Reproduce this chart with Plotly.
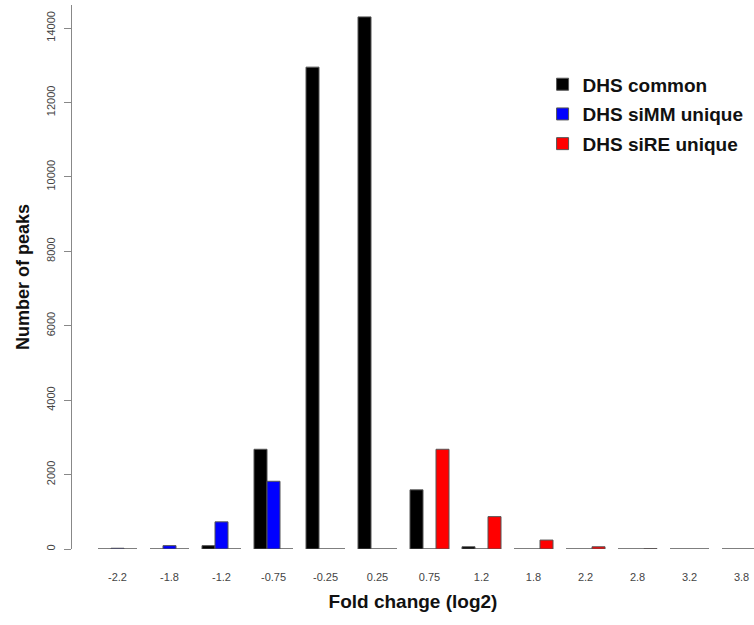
import plotly.graph_objects as go

# Fold-change bins (log2) and peak counts per DHS class
bins = ["-2.2", "-1.8", "-1.2", "-0.75", "-0.25", "0.25", "0.75",
        "1.2", "1.8", "2.2", "2.8", "3.2", "3.8"]
dhs_common = [0, 0, 90, 2680, 12950, 14300, 1590, 60, 0, 0, 0, 0, 0]
dhs_simm_unique = [20, 90, 730, 1820, 0, 0, 0, 0, 0, 0, 0, 0, 0]
dhs_sire_unique = [0, 0, 0, 0, 0, 0, 2680, 870, 240, 60, 10, 0, 0]

y_ticks = [0, 2000, 4000, 6000, 8000, 10000, 12000, 14000]
y_tick_labels = [str(v) for v in y_ticks]

series = [
    ("DHS common", dhs_common, "#000000"),
    ("DHS siMM unique", dhs_simm_unique, "#0000FF"),
    ("DHS siRE unique", dhs_sire_unique, "#FF0000"),
]

fig = go.Figure()
for name, vals, color in series:
    fig.add_trace(go.Bar(
        x=bins, y=vals, name=name, legendgroup=name,
        marker=dict(color=color, line=dict(color="#555555", width=1)),
    ))

font = "Liberation Sans, Arial, sans-serif"
fig.update_layout(
    width=754, height=625,
    margin=dict(l=72, r=0, t=5, b=76),
    paper_bgcolor="white", plot_bgcolor="white",
    barmode="group", bargap=0.25, bargroupgap=0,
    font=dict(family=font, color="#222222"),
    showlegend=True,
    legend=dict(
        x=0.69, y=0.889, xanchor="left", yanchor="top",
        font=dict(size=19, color="#111111", family=font, weight="bold"),
        bgcolor="rgba(0,0,0,0)", itemwidth=30, tracegroupgap=2,
    ),
    xaxis=dict(
        type="category", range=[-0.875, 12.24],
        showline=False, showgrid=False, zeroline=False, ticks="",
        tickfont=dict(size=11, color="#444444"),
        ticklabelstandoff=20,
        title=dict(text="Fold change (log2)", standoff=12,
                   font=dict(size=19, color="#111111", weight="bold")),
    ),
    yaxis=dict(
        range=[0, 14620], showgrid=False, zeroline=False,
        showline=True, linecolor="#888888", linewidth=1,
        ticks="outside", ticklen=7, tickcolor="#888888",
        tickvals=y_ticks, ticktext=y_tick_labels, tickangle=-90,
        tickfont=dict(size=11, color="#444444"),
        ticklabelstandoff=5,
        title=dict(text="Number of peaks", standoff=10,
                   font=dict(size=18, color="#111111", weight="bold")),
    ),
)

fig.write_html("out.html")
